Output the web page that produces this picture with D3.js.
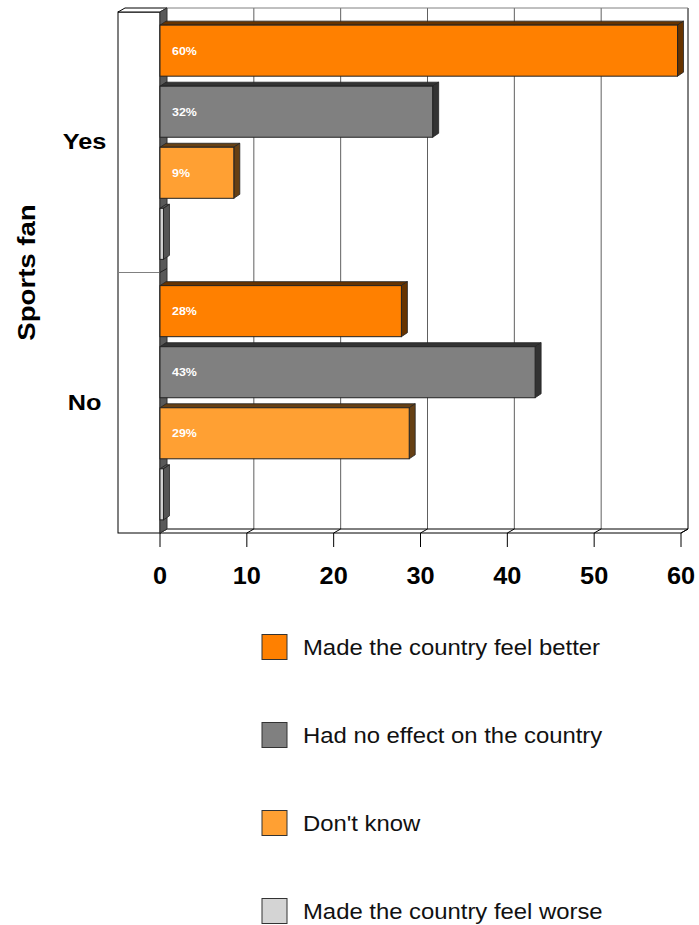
<!DOCTYPE html>
<html><head><meta charset="utf-8">
<script src="https://cdn.jsdelivr.net/npm/d3@7"></script>
<style>body{margin:0;background:#fff}svg{display:block;font-family:Arial,"Liberation Sans",sans-serif}</style>
</head><body><svg id="c" width="699" height="925"></svg>
<script>
const categories = ["Yes", "No"];
const seriesNames = ["Made the country feel better", "Had no effect on the country", "Don't know", "Made the country feel worse"];
const seriesColors = ["#FF8000", "#808080", "#FFA033", "#D4D4D4"];
const valuesYes = [59.6, 31.4, 8.5, 0.4];
const valuesNo = [27.8, 43.2, 28.7, 0.4];
const labelsYes = ["60%", "32%", "9%", ""];
const labelsNo = ["28%", "43%", "29%", ""];
const xTicks = [0, 10, 20, 30, 40, 50, 60];
const axisTitle = "Sports fan";

const svg = d3.select("#c");
const x = d3.scaleLinear().domain([0, 60]).range([160, 681]);
const yTop = 12, yBot = 533;
const wdx = 7, wdy = -4;   // wall depth
const bdx = 6, bdy = -4;   // bar depth
const y0 = d3.scaleBand().domain(categories).range([yTop, yBot]);
const y1 = d3.scaleBand().domain(seriesNames).range([0, y0.bandwidth()]).paddingInner(10/61).paddingOuter(0.215);

const line = (pts) => "M" + pts.map(p => p.join(",")).join("L") + "Z";
const shade = (c) => { const k = d3.rgb(c); return d3.rgb(k.r * 0.4, k.g * 0.4, k.b * 0.4); };

// left white box
svg.append("rect").attr("x", 118).attr("y", yTop).attr("width", 160 - 118).attr("height", yBot - yTop)
  .attr("fill", "#fff").attr("stroke", "#000").attr("stroke-width", 1);
svg.append("path").attr("d", line([[118, yTop], [118 + wdx, yTop + wdy], [160 + wdx, yTop + wdy], [160, yTop]]))
  .attr("fill", "#fff").attr("stroke", "#000").attr("stroke-width", 1);
svg.append("line").attr("x1", 118).attr("x2", 160).attr("y1", y0("No")).attr("y2", y0("No"))
  .attr("stroke", "#808080").attr("stroke-width", 1.2);

// back wall gridlines
const g = svg.append("g");
g.selectAll("line.grid").data(xTicks.slice(1)).join("line")
  .attr("x1", d => x(d) + wdx).attr("x2", d => x(d) + wdx)
  .attr("y1", yTop + wdy).attr("y2", yBot + wdy)
  .attr("stroke", d => d === 60 ? "#000" : "#606060").attr("stroke-width", 1);
g.append("line").attr("x1", x(0) + wdx).attr("x2", x(60) + wdx).attr("y1", yTop + wdy).attr("y2", yTop + wdy)
  .attr("stroke", "#808080").attr("stroke-width", 1);
// floor
g.append("path").attr("d", line([[x(0), yBot], [x(60), yBot], [x(60) + wdx, yBot + wdy], [x(0) + wdx, yBot + wdy]]))
  .attr("fill", "#fff").attr("stroke", "#000").attr("stroke-width", 1);
g.selectAll("line.fl").data(xTicks.slice(1)).join("line")
  .attr("x1", d => x(d)).attr("x2", d => x(d) + wdx).attr("y1", yBot).attr("y2", yBot + wdy)
  .attr("stroke", "#000").attr("stroke-width", 1);
// left wall side
g.append("path").attr("d", line([[x(0), yTop], [x(0) + wdx, yTop + wdy], [x(0) + wdx, yBot + wdy], [x(0), yBot]]))
  .attr("fill", "#595959").attr("stroke", "#333").attr("stroke-width", 1);
g.append("line").attr("x1", x(0)).attr("x2", x(0) + wdx).attr("y1", y0("No")).attr("y2", y0("No") + wdy)
  .attr("stroke", "#222").attr("stroke-width", 1);

// ticks
g.selectAll("line.tk").data(xTicks).join("line")
  .attr("x1", d => x(d)).attr("x2", d => x(d)).attr("y1", yBot).attr("y2", yBot + 14)
  .attr("stroke", "#000").attr("stroke-width", 1);
g.selectAll("text.tl").data(xTicks).join("text")
  .attr("transform", d => `translate(${x(d)},584) scale(1.1,1)`).attr("text-anchor", "middle")
  .attr("font-size", 23).attr("font-weight", "bold").text(d => d);

// bars
const rows = [];
categories.forEach((c, ci) => {
  const vals = ci === 0 ? valuesYes : valuesNo;
  const labs = ci === 0 ? labelsYes : labelsNo;
  seriesNames.forEach((s, si) => rows.push({c, s, si, v: vals[si], lab: labs[si]}));
});
const bars = svg.append("g").selectAll("g").data(rows).join("g");
bars.each(function(d) {
  const sel = d3.select(this);
  const x0 = x(0), x1 = x(d.v);
  const top = y0(d.c) + y1(d.s), h = y1.bandwidth();
  const col = seriesColors[d.si];
  const dk = shade(col);
  sel.append("path").attr("d", line([[x0, top], [x0 + bdx, top + bdy], [x1 + bdx, top + bdy], [x1, top]]))
    .attr("fill", dk).attr("stroke", "#222").attr("stroke-width", 0.8);
  sel.append("path").attr("d", line([[x1, top], [x1 + bdx, top + bdy], [x1 + bdx, top + h + bdy], [x1, top + h]]))
    .attr("fill", dk).attr("stroke", "#222").attr("stroke-width", 0.8);
  sel.append("rect").attr("x", x0).attr("y", top).attr("width", x1 - x0).attr("height", h)
    .attr("fill", col).attr("stroke", "#222").attr("stroke-width", 1);
  if (d.lab) sel.append("text").attr("transform", `translate(172,${top + h / 2 + 4}) scale(1.13,1)`)
    .attr("fill", "#fff").attr("font-size", 11).attr("font-weight", "bold").text(d.lab);
});

// category labels
svg.selectAll("text.cat").data(categories).join("text")
  .attr("transform", d => `translate(84.5,${y0(d) + y0.bandwidth() / 2 + 7}) scale(1.15,1)`).attr("text-anchor", "middle")
  .attr("font-size", 22).attr("font-weight", "bold").text(d => d);
svg.append("text").attr("transform", "translate(35,272.5) rotate(-90) scale(1.2,1)").attr("text-anchor", "middle")
  .attr("font-size", 23).attr("font-weight", "bold").text(axisTitle);

// legend
const leg = svg.append("g").selectAll("g").data(seriesNames).join("g")
  .attr("transform", (d, i) => `translate(262,${634.5 + i * 88})`);
leg.append("rect").attr("width", 25).attr("height", 25).attr("fill", (d, i) => seriesColors[i]).attr("stroke", "#333").attr("stroke-width", 1);
leg.append("text").attr("transform", "translate(41,20) scale(1.085,1)").attr("font-size", 22).attr("fill", "#111").text(d => d);
</script></body></html>
